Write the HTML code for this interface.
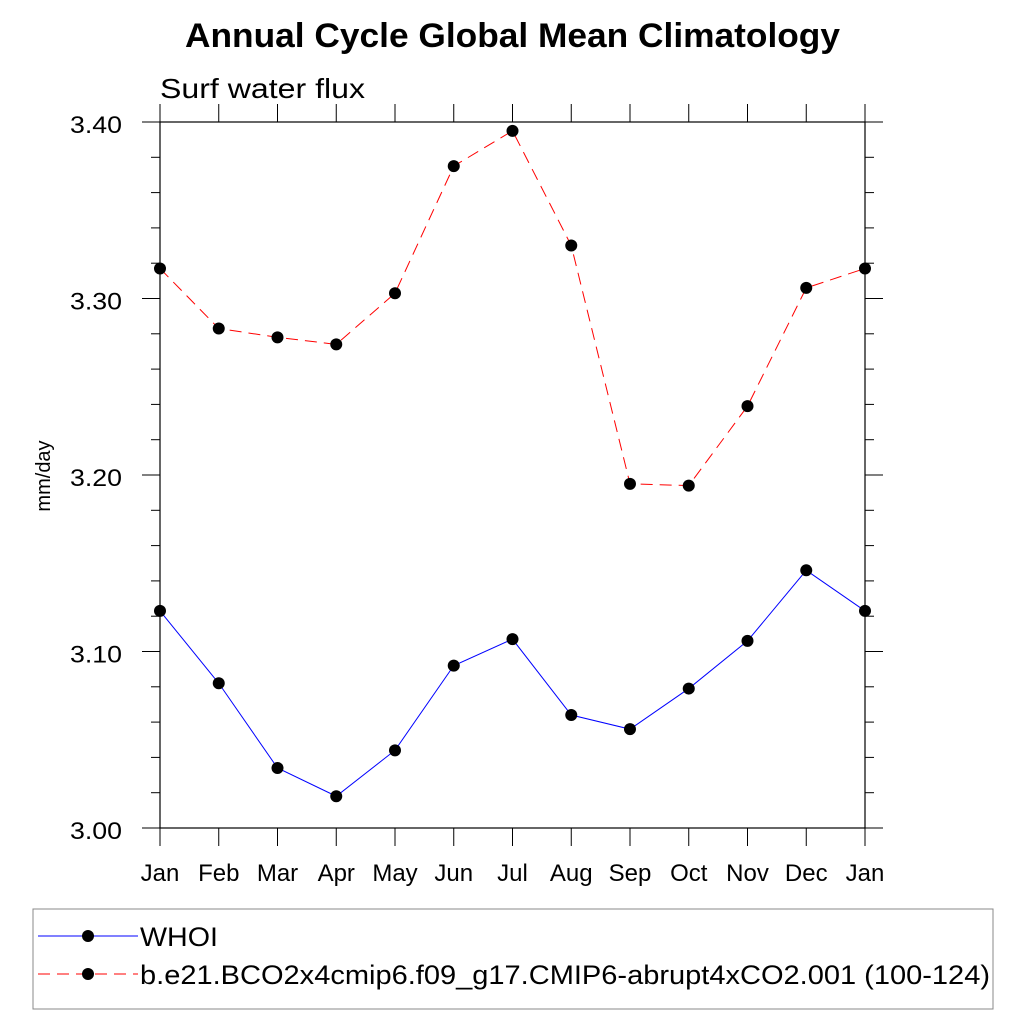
<!DOCTYPE html>
<html><head><meta charset="utf-8"><style>
body{margin:0;background:#fff;}
svg text{font-family:"Liberation Sans",Arial,sans-serif;}
</style></head><body>
<svg width="1024" height="1024" viewBox="0 0 1024 1024">
<text x="185" y="47" font-size="34" font-weight="bold" textLength="655" lengthAdjust="spacingAndGlyphs">Annual Cycle Global Mean Climatology</text>
<text x="160" y="98" font-size="28" textLength="205" lengthAdjust="spacingAndGlyphs">Surf water flux</text>
<text transform="translate(50,476) rotate(-90)" font-size="20" text-anchor="middle">mm/day</text>
<g id="axes"></g>
<g id="series"></g>
<g>
<rect x="33" y="909" width="960" height="100" fill="none" stroke="#888" stroke-width="1"/>
<g>
<line x1="38" y1="936" x2="138" y2="936" stroke="#00f" stroke-width="1"/>
<circle cx="88" cy="936" r="6" fill="#000"/>
<text x="140" y="946" font-size="27" textLength="78" lengthAdjust="spacingAndGlyphs">WHOI</text></g>
<g>
<line x1="38" y1="974" x2="138" y2="974" stroke="#f00" stroke-width="1" stroke-dasharray="12,7"/>
<circle cx="88" cy="974" r="6" fill="#000"/>
<text x="140" y="984" font-size="27" textLength="850" lengthAdjust="spacingAndGlyphs">b.e21.BCO2x4cmip6.f09_g17.CMIP6-abrupt4xCO2.001 (100-124)</text></g>
</g>
</svg>
<script>
const months=["Jan","Feb","Mar","Apr","May","Jun","Jul","Aug","Sep","Oct","Nov","Dec","Jan"];
const whoi=[3.123,3.082,3.034,3.018,3.044,3.092,3.107,3.064,3.056,3.079,3.106,3.146,3.123];
const model=[3.317,3.283,3.278,3.274,3.303,3.375,3.395,3.330,3.195,3.194,3.239,3.306,3.317];
const yTicks=[3.00,3.10,3.20,3.30,3.40];
const yTickLabels=["3.00","3.10","3.20","3.30","3.40"];
const NS="http://www.w3.org/2000/svg";
const L=160,R=865,T=122,B=828,ymin=3.0,ymax=3.4;
const xs=i=>L+i*(R-L)/12;
const ys=v=>B-(v-ymin)/(ymax-ymin)*(B-T);
function mk(t,a,p){const e=document.createElementNS(NS,t);for(const k in a)e.setAttribute(k,a[k]);p.appendChild(e);return e;}
const ax=document.getElementById('axes');
const fr=mk('rect',{x:L,y:T,width:R-L,height:B-T,fill:'none',stroke:'#000','stroke-width':1.2},ax);


for(let v=0;v<=20;v++){const val=ymin+v*0.02;const y=ys(val);const major=v%5===0;const len=major?18:9;
 mk('line',{x1:L-len,y1:y,x2:L,y2:y,stroke:'#000','stroke-width':1},ax);
 mk('line',{x1:R,y1:y,x2:R+len,y2:y,stroke:'#000','stroke-width':1},ax);}
yTicks.forEach((v,i)=>{const t=mk('text',{x:L-90,y:ys(v)+11,'font-size':24,textLength:52,lengthAdjust:'spacingAndGlyphs'},ax);t.textContent=yTickLabels[i];
 
 });
months.forEach((m,i)=>{const x=xs(i);
 mk('line',{x1:x,y1:B,x2:x,y2:B+18,stroke:'#000','stroke-width':1},ax);
 mk('line',{x1:x,y1:T,x2:x,y2:T-18,stroke:'#000','stroke-width':1},ax);
 const t=mk('text',{x:x,y:B+53,'font-size':24,'text-anchor':'middle'},ax);t.textContent=m;
 
 });
const sg=document.getElementById('series');
function draw(vals,color,dash,name){
 const pl=mk('polyline',{points:vals.map((v,i)=>xs(i)+','+ys(v)).join(' '),fill:'none',stroke:color,'stroke-width':1,'stroke-dasharray':dash},sg);
 
 
 vals.forEach((v,i)=>{const c=mk('circle',{cx:xs(i),cy:ys(v),r:6,fill:'#000'},sg);
  
  });
}
draw(whoi,'#00f','none','whoi');
draw(model,'#f00','12,7','model');
</script>
</body></html>
